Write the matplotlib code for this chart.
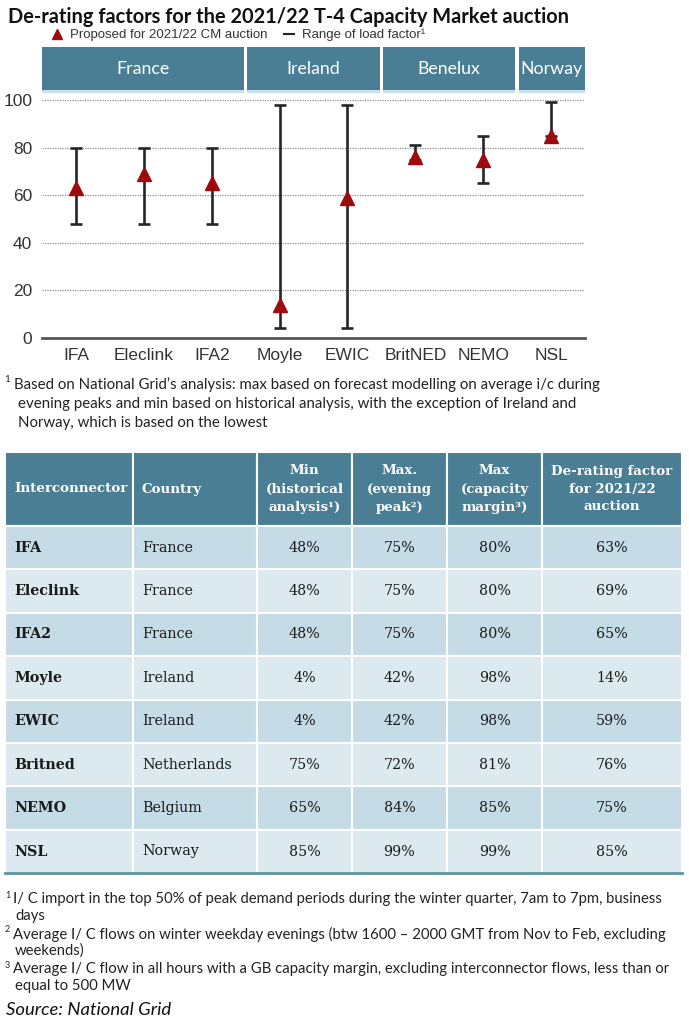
import matplotlib.pyplot as plt
from matplotlib.lines import Line2D
from matplotlib.patches import Rectangle
import numpy as np

# data
links = ['IFA', 'Eleclink', 'IFA2', 'Moyle', 'EWIC', 'BritNED', 'NEMO', 'NSL']
table_names = ['IFA', 'Eleclink', 'IFA2', 'Moyle', 'EWIC', 'Britned', 'NEMO', 'NSL']
countries = ['France', 'France', 'France', 'Ireland', 'Ireland', 'Netherlands', 'Belgium', 'Norway']
min_hist = [48, 48, 48, 4, 4, 75, 65, 85]
max_evening = [75, 75, 75, 42, 42, 72, 84, 99]
max_capacity = [80, 80, 80, 98, 98, 81, 85, 99]
derating = [63, 69, 65, 14, 59, 76, 75, 85]
groups = ['France', 'Ireland', 'Benelux', 'Norway']
group_sizes = [3, 2, 2, 1]
yticks = [0, 20, 40, 60, 80, 100]

W, H = 689, 1024
DARK = '#4a7e94'
NARROW = ['Liberation Sans Narrow', 'Liberation Sans', 'DejaVu Sans']
CAL = ['Lato', 'DejaVu Sans']
SERIF = ['DejaVu Serif']

fig = plt.figure(figsize=(W / 100, H / 100), dpi=100)


def box(x0, y0, x1, y1):
    # pixel box -> figure fraction rect
    return [x0 / W, 1 - y1 / H, (x1 - x0) / W, (y1 - y0) / H]


# background axes in pixel units for text / table
bg = fig.add_axes([0, 0, 1, 1])
bg.set_xlim(0, W)
bg.set_ylim(H, 0)
bg.axis('off')

bg.text(8, 17, 'De-rating factors for the 2021/22 T-4 Capacity Market auction',
        family=CAL, weight='bold', fontsize=14.4, va='center', ha='left', color='#111111')

# legend
handles = [Line2D([], [], ls='none', marker='^', color='#a00c0c', markersize=7.5),
           Line2D([], [], color='#222222', lw=1.5)]
fig.legend(handles, ['Proposed for 2021/22 CM auction', 'Range of load factor¹'],
           loc='center left', bbox_to_anchor=(40 / W, 1 - 35 / H), ncol=2, frameon=False,
           prop={'family': NARROW, 'size': 9.5}, handlelength=0.8, handletextpad=0.6,
           columnspacing=1.2, labelcolor='#333333')

# chart
ax = fig.add_axes(box(42, 100, 585, 338))
x = np.arange(len(links))
lo = np.array(min_hist)
hi = np.array(max_capacity)
mid = np.array(derating)
ax.errorbar(x, mid, yerr=[mid - lo, hi - mid], fmt='none', ecolor='#262626',
            elinewidth=1.9, capsize=4.5, capthick=1.9, zorder=3)
ax.plot(x, mid, ls='none', marker='^', color='#9e0b0f', markersize=10, zorder=4, clip_on=False)
ax.set_xlim(-0.5, len(links) - 0.5)
ax.set_ylim(0, 100)
ax.set_yticks(yticks)
ax.set_xticks(x)
ax.set_xticklabels(links)
for s in ['top', 'right', 'left']:
    ax.spines[s].set_visible(False)
ax.spines['bottom'].set_color('#555555')
ax.spines['bottom'].set_linewidth(2)
ax.grid(axis='y', ls=(0, (1, 1)), color='#8a8a8a', lw=0.9)
ax.set_axisbelow(True)
ax.tick_params(length=0, labelsize=12.5, labelcolor='#333333', pad=7)
for lab in ax.get_xticklabels() + ax.get_yticklabels():
    lab.set_family(NARROW)

# country header band
hx = fig.add_axes(box(42, 47, 585, 93))
hx.set_xlim(-0.5, len(links) - 0.5)
hx.set_ylim(0, 1)
hx.axis('off')
start = -0.5
gap = 0.025
for name, size in zip(groups, group_sizes):
    x0 = start + (gap if start > -0.5 else 0)
    x1 = start + size - (gap if start + size < len(links) - 0.5 else 0)
    hx.add_patch(Rectangle((x0, 0.07), x1 - x0, 0.93, color=DARK, lw=0))
    hx.add_patch(Rectangle((x0, 0), x1 - x0, 0.07, color='#c9e1ee', lw=0))
    hx.text((x0 + x1) / 2, 0.53, name, color='white', family=CAL, fontsize=12.8,
            ha='center', va='center')
    start += size

# footnote 1
note1 = ['Based on National Grid’s analysis: max based on forecast modelling on average i/c during',
         'evening peaks and min based on historical analysis, with the exception of Ireland and',
         'Norway, which is based on the lowest']
bg.text(4, 380, '1', family=CAL, fontsize=7, va='center', color='#222222')
for i, line in enumerate(note1):
    bg.text(14 if i == 0 else 18, 385 + i * 19, line, family=CAL, fontsize=10.8,
            va='center', color='#222222')

# table
col_edges = [5, 133, 257, 352, 447, 542, 682]
head_top, head_bot = 452, 526
row_h = 43.4
headers = ['Interconnector', 'Country', 'Min\n(historical\nanalysis¹)', 'Max.\n(evening\npeak²)',
           'Max\n(capacity\nmargin³)', 'De-rating factor\nfor 2021/22\nauction']
for c in range(6):
    x0, x1 = col_edges[c], col_edges[c + 1]
    bg.add_patch(Rectangle((x0, head_top), x1 - x0, head_bot - head_top, facecolor=DARK,
                           edgecolor='white', lw=1.5))
    if c < 2:
        bg.text(x0 + 9, (head_top + head_bot) / 2, headers[c], color='white', weight='bold',
                family=SERIF, fontsize=9.6, ha='left', va='center')
    else:
        bg.text((x0 + x1) / 2, (head_top + head_bot) / 2, headers[c], color='white',
                weight='bold', family=SERIF, fontsize=9.6, ha='center', va='center',
                linespacing=1.5)

for r in range(len(table_names)):
    y0 = head_bot + r * row_h
    fc = '#c5dbe5' if r % 2 == 0 else '#dce9ef'
    cells = [table_names[r], countries[r], f'{min_hist[r]}%', f'{max_evening[r]}%',
             f'{max_capacity[r]}%', f'{derating[r]}%']
    for c in range(6):
        x0, x1 = col_edges[c], col_edges[c + 1]
        bg.add_patch(Rectangle((x0, y0), x1 - x0, row_h, facecolor=fc, edgecolor='white', lw=1.5))
        yc = y0 + row_h / 2
        if c == 0:
            bg.text(x0 + 9, yc, cells[c], weight='bold', family=SERIF, fontsize=10.3,
                    ha='left', va='center', color='#1a1a1a')
        elif c == 1:
            bg.text(x0 + 9, yc, cells[c], family=SERIF, fontsize=10.3,
                    ha='left', va='center', color='#1a1a1a')
        else:
            bg.text((x0 + x1) / 2, yc, cells[c], family=SERIF, fontsize=10.3,
                    ha='center', va='center', color='#1a1a1a')
table_bot = head_bot + len(table_names) * row_h
bg.plot([col_edges[0], col_edges[-1]], [table_bot, table_bot], color='#5e949e', lw=2)

# bottom footnotes
notes = [('1', 'I/ C import in the top 50% of peak demand periods during the winter quarter, 7am to 7pm, business', 'days'),
         ('2', 'Average I/ C flows on winter weekday evenings (btw 1600 – 2000 GMT from Nov to Feb, excluding', 'weekends)'),
         ('3', 'Average I/ C flow in all hours with a GB capacity margin, excluding interconnector flows, less than or', 'equal to 500 MW')]
for i, (sup, l1, l2) in enumerate(notes):
    y = 899 + i * 35
    bg.text(5, y - 4, sup, family=CAL, fontsize=6.5, va='center', color='#222222')
    bg.text(13, y, l1, family=CAL, fontsize=10.7, va='center', color='#222222')
    bg.text(15, y + 17, l2, family=CAL, fontsize=10.7, va='center', color='#222222')

bg.text(6, 1010, 'Source: National Grid', family=CAL, style='italic', fontsize=13.3,
        va='center', color='#111111')

fig.savefig('out.png', dpi=100)
